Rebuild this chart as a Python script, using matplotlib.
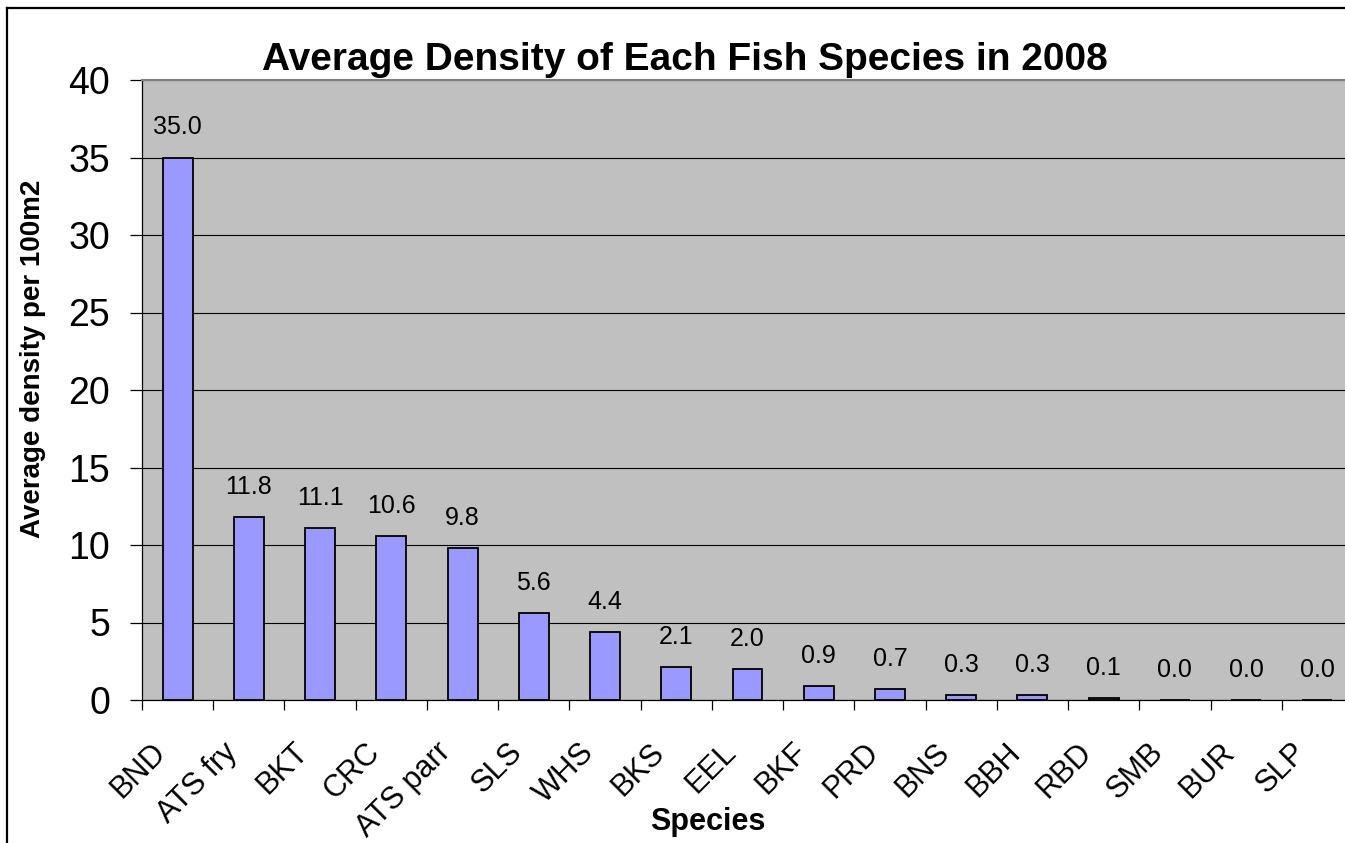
import numpy as np
import matplotlib
matplotlib.use("Agg")
import matplotlib.pyplot as plt
from matplotlib.lines import Line2D
from matplotlib.transforms import ScaledTranslation

plt.rcParams['font.family'] = ['Liberation Sans', 'DejaVu Sans']

# data
species = ["BND", "ATS fry", "BKT", "CRC", "ATS parr", "SLS", "WHS", "BKS", "EEL",
           "BKF", "PRD", "BNS", "BBH", "RBD", "SMB", "BUR", "SLP"]
density = [35.0, 11.8, 11.1, 10.6, 9.8, 5.6, 4.4, 2.1, 2.0,
           0.9, 0.7, 0.3, 0.3, 0.1, 0.0, 0.0, 0.0]
yticks = [0, 5, 10, 15, 20, 25, 30, 35, 40]

W, H = 1345, 843
fig = plt.figure(figsize=(W / 100, H / 100), dpi=100)
fig.patch.set_facecolor('white')

# plot area: left 142px, top 80px, bottom 700px, runs a bit past the right edge
ax = fig.add_axes([142 / W, 1 - 700 / H, (1353 - 142) / W, (700 - 80) / H])
ax.set_facecolor('#C0C0C0')

x = np.arange(len(species))
ax.bar(x, density, width=0.42, color='#9999FF', edgecolor='black', linewidth=1.3, zorder=3)

for xi, v in zip(x, density):
    ax.annotate(f"{v:.1f}", (xi, v), xytext=(0, 13), textcoords='offset points',
                ha='center', va='bottom', fontsize=18, color='black')

ax.set_xlim(-0.5, len(species) - 0.5)
ax.set_ylim(0, 40)
ax.set_yticks(yticks)
ax.yaxis.grid(True, color='black', linewidth=0.8, zorder=0)
ax.set_axisbelow(True)

ax.tick_params(axis='y', length=9, width=0.9, pad=14, labelsize=27, direction='out')

# labels at category centres, tick marks at boundaries
ax.set_xticks(x)
ax.set_xticklabels(species, rotation=45, ha='right', va='center',
                   rotation_mode='anchor', fontsize=22)
ax.tick_params(axis='x', which='major', length=0, pad=34.5)
ax.set_xticks(np.arange(-0.5, len(species)), minor=True)
ax.tick_params(axis='x', which='minor', length=7.5, width=0.9, direction='out')
for lab in ax.get_xticklabels():
    lab.set_transform(lab.get_transform() + ScaledTranslation(-16 / 100, 0, fig.dpi_scale_trans))

ax.spines['top'].set_color('#808080')
ax.spines['top'].set_linewidth(1.5)
ax.spines['right'].set_visible(False)
ax.spines['left'].set_color('black')
ax.spines['bottom'].set_color('black')
ax.spines['left'].set_linewidth(0.9)
ax.spines['bottom'].set_linewidth(0.9)

fig.text(685 / W, 1 - 70 / H, "Average Density of Each Fish Species in 2008",
         ha='center', va='baseline', fontsize=28, fontweight='bold')
fig.text(33 / W, 1 - 359 / H, "Average density per 100m2", rotation=90,
         ha='center', va='center', fontsize=20, fontweight='bold')
fig.text(708 / W, 1 - 830 / H, "Species", ha='center', va='baseline',
         fontsize=22, fontweight='bold')

# outer chart border (cut off at right and bottom)
fig.add_artist(Line2D([7 / W, 7 / W], [0, 1 - 8 / H], transform=fig.transFigure,
                      color='black', linewidth=1.6))
fig.add_artist(Line2D([7 / W, 1], [1 - 8 / H, 1 - 8 / H], transform=fig.transFigure,
                      color='black', linewidth=1.6))

fig.savefig("out.png", dpi=100)
